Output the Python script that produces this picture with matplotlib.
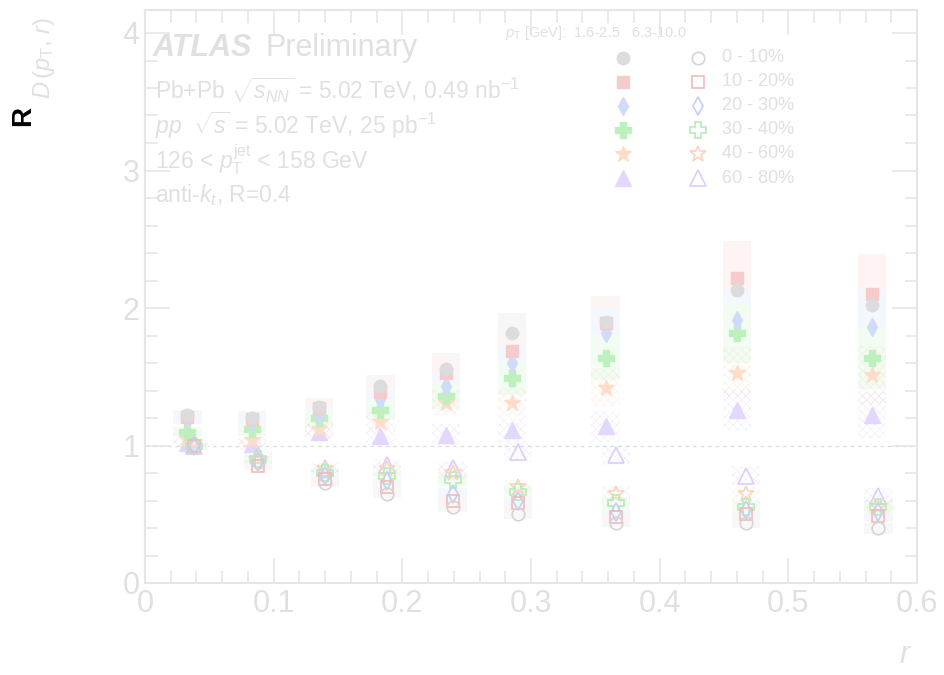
import matplotlib
matplotlib.use('Agg')
import matplotlib.pyplot as plt
from matplotlib.patches import Rectangle

# Значения
r_lo = [0.033, 0.083, 0.135, 0.183, 0.234, 0.285, 0.358, 0.460, 0.565]
r_hi = [0.038, 0.088, 0.140, 0.188, 0.239, 0.290, 0.366, 0.467, 0.570]

cent_labels = ['0 - 10%', '10 - 20%', '20 - 30%', '30 - 40%', '40 - 60%', '60 - 80%']

# 1.6-2.5 GeV (закрашенные)
rd_lo_0010 = [1.22, 1.20, 1.28, 1.43, 1.56, 1.82, 1.90, 2.13, 2.02]
rd_lo_1020 = [1.21, 1.19, 1.27, 1.39, 1.53, 1.69, 1.89, 2.22, 2.10]
rd_lo_2030 = [1.19, 1.17, 1.22, 1.34, 1.43, 1.60, 1.82, 1.91, 1.86]
rd_lo_3040 = [1.10, 1.12, 1.20, 1.26, 1.36, 1.49, 1.64, 1.82, 1.64]
rd_lo_4060 = [1.05, 1.04, 1.12, 1.17, 1.31, 1.31, 1.42, 1.53, 1.51]
rd_lo_6080 = [1.02, 1.01, 1.10, 1.07, 1.08, 1.11, 1.14, 1.26, 1.22]

# 6.3-10.0 GeV (пустые)
rd_hi_0010 = [0.99, 0.88, 0.73, 0.65, 0.55, 0.50, 0.44, 0.44, 0.40]
rd_hi_1020 = [1.00, 0.85, 0.76, 0.70, 0.60, 0.58, 0.48, 0.50, 0.49]
rd_hi_2030 = [1.00, 0.88, 0.78, 0.74, 0.65, 0.60, 0.52, 0.53, 0.52]
rd_hi_3040 = [1.00, 0.90, 0.80, 0.78, 0.75, 0.66, 0.58, 0.55, 0.55]
rd_hi_4060 = [1.02, 0.90, 0.83, 0.83, 0.80, 0.70, 0.65, 0.65, 0.55]
rd_hi_6080 = [1.00, 0.93, 0.84, 0.86, 0.84, 0.95, 0.93, 0.78, 0.63]

# относительные систематические погрешности (оценка по размеру прямоугольников)
sys_lo = [0.03, 0.04, 0.05, 0.06, 0.07, 0.08, 0.10, 0.12, 0.14]
sys_hi = [0.02, 0.03, 0.04, 0.05, 0.06, 0.07, 0.08, 0.09, 0.10]

x_ticks = [0, 0.1, 0.2, 0.3, 0.4, 0.5, 0.6]
y_ticks = [0, 1, 2, 3, 4]

series_lo = [rd_lo_0010, rd_lo_1020, rd_lo_2030, rd_lo_3040, rd_lo_4060, rd_lo_6080]
series_hi = [rd_hi_0010, rd_hi_1020, rd_hi_2030, rd_hi_3040, rd_hi_4060, rd_hi_6080]

# бледные цвета как на картинке
fill_colors = ['#dcdcdc', '#f5cbcb', '#d0dbfa', '#bdf0bd', '#fddcc8', '#e4d7fd']
edge_colors = ['#d4d4d4', '#f2baba', '#c2cff8', '#b8ebb8', '#fbd4bd', '#dccdfc']
box_colors = ['#f7f7f7', '#fef4f4', '#f4f7fe', '#f2fcf2', '#fff5ef', '#f7f3ff']
markers = ['o', 's', 'd', 'P', '*', '^']
msizes = [9, 9, 9, 11, 12, 11]

grey = '#e0e0e0'
frame = '#e6e6e6'

W, H = 945, 675
fig = plt.figure(figsize=(W / 100, H / 100), dpi=100)
ax = fig.add_axes([145 / W, 1 - 583 / H, (917 - 145) / W, (583 - 10) / H])

def fx(px):
    return px / W

def fy(py):
    return 1 - py / H

plt.rcParams['hatch.linewidth'] = 0.6

hw = 0.011
for i in range(6):
    hatch = 'xxxx' if i >= 4 else None
    for j in range(len(r_lo)):
        for xs, ys, sy in ((r_lo, series_lo[i], sys_lo), (r_hi, series_hi[i], sys_hi)):
            v = ys[j]
            d = v * sy[j]
            rect = Rectangle((xs[j] - hw, v - d), 2 * hw, 2 * d,
                             facecolor=box_colors[i] if hatch is None else 'none',
                             edgecolor=box_colors[i] if hatch is None else edge_colors[i],
                             hatch=hatch, linewidth=0, alpha=1 if hatch is None else 0.3,
                             zorder=1 + i * 0.1)
            ax.add_patch(rect)

for i in range(6):
    ax.plot(r_lo, series_lo[i], linestyle='none', marker=markers[i], markersize=msizes[i],
            color=fill_colors[i], markeredgecolor=fill_colors[i], zorder=5 - i * 0.1)
    ax.plot(r_hi, series_hi[i], linestyle='none', marker=markers[i], markersize=msizes[i],
            markerfacecolor='none', markeredgecolor=edge_colors[i], markeredgewidth=1.2,
            zorder=5 - i * 0.1)

ax.axhline(1, color='#dcdcdc', linestyle=(0, (3, 3)), linewidth=0.9, zorder=0.5)

ax.set_xlim(0, 0.6)
ax.set_ylim(0, (583 - 10) / 137.5)
ax.set_xticks(x_ticks)
ax.set_xticklabels(['0', '0.1', '0.2', '0.3', '0.4', '0.5', '0.6'])
ax.set_yticks(y_ticks)
ax.set_yticklabels(['0', '1', '2', '3', '4'])
ax.set_xticks([k * 0.02 for k in range(31)], minor=True)
ax.set_yticks([k * 0.2 for k in range(21)], minor=True)
ax.tick_params(which='both', direction='in', top=True, right=True, colors=frame,
               labelcolor=grey, width=1.2)
ax.tick_params(which='major', length=18, labelsize=22, pad=4)
ax.tick_params(which='minor', length=9)
for lab in ax.get_xticklabels() + ax.get_yticklabels():
    lab.set_family(['Liberation Sans Narrow', 'Liberation Sans', 'DejaVu Sans'])
for s in ax.spines.values():
    s.set_color(frame)
    s.set_linewidth(1.5)

fam = ['Liberation Sans', 'DejaVu Sans']
plt.rcParams['mathtext.fontset'] = 'custom'
plt.rcParams['mathtext.rm'] = 'Liberation Sans'
plt.rcParams['mathtext.it'] = 'Liberation Sans:italic'

# подписи осей
fig.text(fx(23), fy(116), 'R', rotation=90, color='black', fontsize=20, fontweight='bold',
         family=fam, ha='center', va='center')
fig.text(fx(44), fy(58), r'$D\,(p_{\mathrm{T}},\,r)$', rotation=90, color=grey, fontsize=17,
         family=fam, ha='center', va='center')
fig.text(fx(906), fy(655), r'$r$', color=grey, fontsize=22, family=fam, ha='center', va='center')

# надписи ATLAS
fig.text(fx(153), fy(48), 'ATLAS', color=grey, fontsize=22, fontweight='bold', style='italic',
         family=fam, ha='left', va='center')
fig.text(fx(266), fy(48), 'Preliminary', color=grey, fontsize=22, family=fam, ha='left', va='center')
info = [r'Pb+Pb $\sqrt{s_{NN}}$ = 5.02 TeV, 0.49 nb$^{-1}$',
        r'$pp$  $\sqrt{s}$ = 5.02 TeV, 25 pb$^{-1}$',
        r'126 < $p_{\mathrm{T}}^{\mathrm{jet}}$ < 158 GeV',
        r'anti-$k_{t}$, R=0.4']
info_y = [90, 125, 160, 195]
for t, yy in zip(info, info_y):
    fig.text(fx(155), fy(yy), t, color=grey, fontsize=16.5, family=fam, ha='left', va='center')

# легенда
fig.text(fx(505), fy(33), r'$p_{\mathrm{T}}$ [GeV]:  1.6-2.5   6.3-10.0', color=grey, fontsize=10.5,
         family=fam, ha='left', va='center')
leg_y = [58, 82, 106, 130, 154, 178]
for i in range(6):
    fig.lines.append(plt.Line2D([fx(623)], [fy(leg_y[i])], transform=fig.transFigure,
                                linestyle='none', marker=markers[i], markersize=msizes[i],
                                color=fill_colors[i], markeredgecolor=fill_colors[i]))
    fig.lines.append(plt.Line2D([fx(698)], [fy(leg_y[i])], transform=fig.transFigure,
                                linestyle='none', marker=markers[i], markersize=msizes[i],
                                markerfacecolor='none', markeredgecolor=edge_colors[i],
                                markeredgewidth=1.2))
    fig.text(fx(722), fy(leg_y[i]), cent_labels[i], color=grey, fontsize=13, family=fam,
             ha='left', va='center')

fig.savefig('out.png', dpi=100)
